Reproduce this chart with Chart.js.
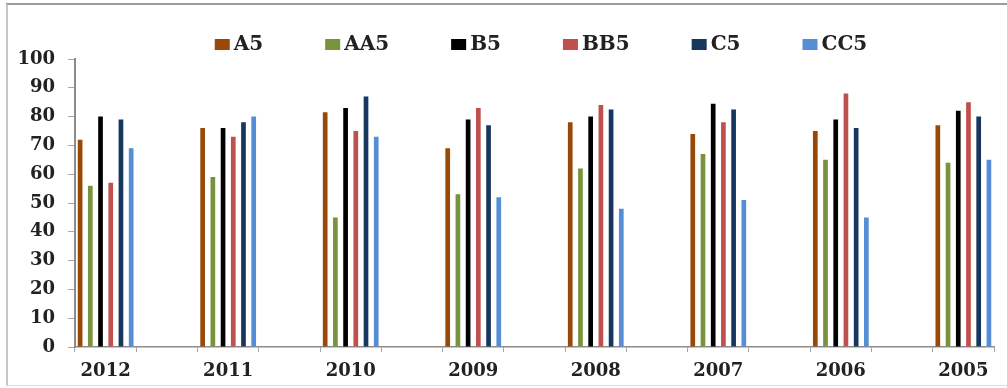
<!DOCTYPE html>
<html>
<head>
<meta charset="utf-8">
<script src="https://cdn.jsdelivr.net/npm/chart.js@4.4.0/dist/chart.umd.min.js"></script>
<style>
  html, body { margin: 0; padding: 0; background: #fff; }
  canvas { display: block; }
</style>
</head>
<body>
<canvas id="chart" width="1007" height="388"></canvas>
<script>
// Years along the category axis
const years = ['2012', '2011', '2010', '2009', '2008', '2007', '2006', '2005'];

// Series names and fills
const seriesNames = ['A5', 'AA5', 'B5', 'BB5', 'C5', 'CC5'];
const seriesColors = ['#984807', '#77933C', '#000000', '#C0504D', '#17375E', '#558ED5'];

// Values per series, one per year
const a5  = [72, 76, 81.5, 69, 78, 74, 75, 77];
const aa5 = [56, 59, 45, 53, 62, 67, 65, 64];
const b5  = [80, 76, 83, 79, 80, 84.5, 79, 82];
const bb5 = [57, 73, 75, 83, 84, 78, 88, 85];
const c5  = [79, 78, 87, 77, 82.5, 82.5, 76, 80];
const cc5 = [69, 80, 73, 52, 48, 51, 45, 65];

// Value axis ticks
const yTicks = [0, 10, 20, 30, 40, 50, 60, 70, 80, 90, 100];

const seriesValues = [a5, aa5, b5, bb5, c5, cc5];

// Each year gets its own band, with an empty band between neighbouring years
const withGaps = (arr, blank) =>
  arr.flatMap((v, i) => (i < arr.length - 1 ? [v, blank] : [v]));

const labels = withGaps(years, '');

const datasets = seriesNames.map((name, i) => ({
  label: name,
  data: withGaps(seriesValues[i], null),
  backgroundColor: seriesColors[i],
  borderWidth: 0,
  categoryPercentage: 1.0,
  barPercentage: 0.46
}));

const textColor = '#222222';
const axisFont = { family: '"DejaVu Serif", serif', size: 18, weight: 'bold' };

// White page with the thin frame around the chart
const framePlugin = {
  id: 'frame',
  beforeDraw(chart) {
    const ctx = chart.ctx;
    ctx.save();
    ctx.fillStyle = '#ffffff';
    ctx.fillRect(0, 0, chart.width, chart.height);
    ctx.lineWidth = 2;
    ctx.strokeStyle = '#9c9c9c';
    ctx.beginPath();
    ctx.moveTo(6, 4);
    ctx.lineTo(chart.width, 4);
    ctx.stroke();
    ctx.lineWidth = 1.5;
    ctx.strokeStyle = '#b4b4b4';
    ctx.beginPath();
    ctx.moveTo(7, 4);
    ctx.lineTo(7, 386);
    ctx.stroke();
    ctx.lineWidth = 1;
    ctx.strokeStyle = '#dcdcdc';
    ctx.beginPath();
    ctx.moveTo(7, 385.5);
    ctx.lineTo(chart.width, 385.5);
    ctx.stroke();
    ctx.restore();
  }
};

// Single-row legend with tight box/text spacing
const legendRowPlugin = {
  id: 'legendRow',
  afterDraw(chart) {
    const ctx = chart.ctx;
    ctx.save();
    ctx.font = 'bold 20px "DejaVu Serif", serif';
    ctx.textBaseline = 'middle';
    ctx.textAlign = 'left';
    const boxW = 15, boxH = 11, textGap = 4, itemGap = 62, centerX = 541, midY = 44.5;
    const items = chart.data.datasets.map(d => ({
      text: d.label,
      color: d.backgroundColor,
      w: ctx.measureText(d.label).width
    }));
    const total = items.reduce((s, it) => s + boxW + textGap + it.w, 0) + itemGap * (items.length - 1);
    let x = centerX - total / 2;
    items.forEach(it => {
      ctx.fillStyle = it.color;
      ctx.fillRect(x, midY - boxH / 2, boxW, boxH);
      ctx.fillStyle = textColor;
      ctx.fillText(it.text, x + boxW + textGap, midY);
      x += boxW + textGap + it.w + itemGap;
    });
    ctx.restore();
  }
};

new Chart(document.getElementById('chart'), {
  type: 'bar',
  data: { labels, datasets },
  options: {
    responsive: false,
    animation: false,
    devicePixelRatio: 1,
    layout: { padding: { left: 0, top: 59, right: 13, bottom: 0 } },
    plugins: {
      legend: { display: false },
      tooltip: { enabled: false }
    },
    scales: {
      x: {
        offset: true,
        afterFit(scale) { scale.height = 41; },
        grid: {
          offset: true,
          drawOnChartArea: false,
          drawTicks: true,
          tickLength: 5,
          color: '#a6a6a6',
          lineWidth: 1
        },
        border: { display: true, color: '#8c8c8c', width: 1.5 },
        ticks: {
          autoSkip: false,
          maxRotation: 0,
          minRotation: 0,
          padding: 9,
          color: textColor,
          font: axisFont
        }
      },
      y: {
        min: 0,
        max: 100,
        afterFit(scale) { scale.width = 75; },
        afterBuildTicks(scale) { scale.ticks = yTicks.map(v => ({ value: v })); },
        grid: {
          drawOnChartArea: false,
          drawTicks: true,
          tickLength: 7,
          color: '#a6a6a6',
          lineWidth: 1
        },
        border: { display: true, color: '#8c8c8c', width: 2 },
        ticks: {
          padding: 13,
          color: textColor,
          font: axisFont
        }
      }
    }
  },
  plugins: [framePlugin, legendRowPlugin]
});
</script>
</body>
</html>
